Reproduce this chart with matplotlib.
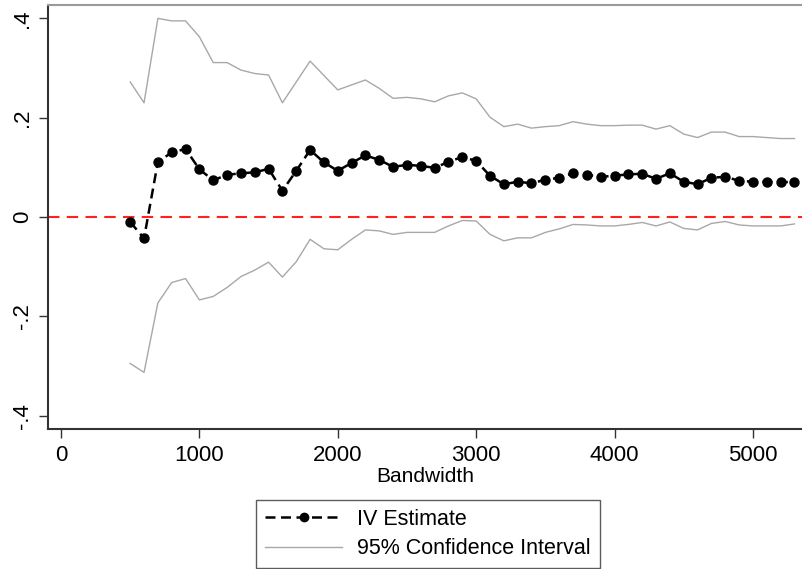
import numpy as np
import matplotlib
matplotlib.use('Agg')
import matplotlib.pyplot as plt

plt.rcParams['font.family'] = ['Liberation Sans', 'DejaVu Sans']

# bandwidths 500..5300 step 100
bandwidth = list(range(500, 5301, 100))

iv_estimate = [-0.010, -0.043, 0.111, 0.130, 0.137, 0.096, 0.074, 0.085, 0.088, 0.090,
               0.097, 0.053, 0.093, 0.135, 0.110, 0.093, 0.109, 0.124, 0.115, 0.101,
               0.105, 0.103, 0.099, 0.111, 0.121, 0.113, 0.083, 0.066, 0.071, 0.068,
               0.075, 0.079, 0.088, 0.085, 0.081, 0.083, 0.086, 0.087, 0.077, 0.088,
               0.071, 0.066, 0.079, 0.081, 0.073, 0.071, 0.071, 0.070, 0.071]

ci_upper = [0.272, 0.230, 0.400, 0.395, 0.395, 0.363, 0.311, 0.311, 0.296, 0.289,
            0.286, 0.230, 0.272, 0.314, 0.285, 0.256, 0.266, 0.276, 0.259, 0.239,
            0.241, 0.238, 0.232, 0.244, 0.250, 0.238, 0.201, 0.182, 0.187, 0.179,
            0.182, 0.184, 0.192, 0.187, 0.184, 0.184, 0.185, 0.185, 0.177, 0.184,
            0.167, 0.160, 0.171, 0.171, 0.162, 0.162, 0.160, 0.158, 0.158]

ci_lower = [-0.295, -0.313, -0.173, -0.132, -0.124, -0.167, -0.160, -0.142, -0.120, -0.107,
            -0.091, -0.121, -0.090, -0.045, -0.064, -0.066, -0.045, -0.026, -0.028, -0.035,
            -0.031, -0.031, -0.031, -0.018, -0.007, -0.008, -0.035, -0.048, -0.042, -0.042,
            -0.031, -0.024, -0.015, -0.016, -0.018, -0.018, -0.015, -0.011, -0.018, -0.010,
            -0.023, -0.026, -0.013, -0.009, -0.016, -0.018, -0.018, -0.018, -0.014]

yticks = [-0.4, -0.2, 0, 0.2, 0.4]
ytick_labels = ['-.4', '-.2', '0', '.2', '.4']
xticks = [0, 1000, 2000, 3000, 4000, 5000]

fig = plt.figure(figsize=(8.03, 5.69), dpi=100)
ax = fig.add_axes([48 / 803, 140 / 569, 1 - 48 / 803, 424 / 569])

ax.axhline(0, color='#ff2020', lw=1.5, dashes=(5.5, 3.5), zorder=1)
ci_line, = ax.plot(bandwidth, ci_upper, color='#a8a8a8', lw=1.0, zorder=2)
ax.plot(bandwidth, ci_lower, color='#a8a8a8', lw=1.0, zorder=2)
iv_line, = ax.plot(bandwidth, iv_estimate, color='black', lw=1.8, dashes=(4, 2.2),
                   marker='o', markersize=6.5, zorder=3)

ax.set_xlim(-94, 5362)
ax.set_ylim(-0.427, 0.427)
ax.set_xticks(xticks)
ax.set_yticks(yticks)
ax.set_yticklabels(ytick_labels, rotation=90, va='center')
ax.tick_params(axis='both', labelsize=16, length=6.5, width=1, color='#333333', direction='out')
ax.tick_params(axis='y', pad=4)
ax.tick_params(axis='x', pad=5)
ax.set_xlabel('Bandwidth', fontsize=15, labelpad=1)

for s in ['left', 'bottom']:
    ax.spines[s].set_color('#333333')
    ax.spines[s].set_linewidth(1.5)
ax.spines['top'].set_color('#9a9a9a')
ax.spines['top'].set_linewidth(1.5)
ax.spines['right'].set_visible(False)

leg = fig.legend([iv_line, ci_line], ['IV Estimate', '95% Confidence Interval'],
                 loc='lower center', bbox_to_anchor=(428 / 803, 1 / 569), fontsize=15.5,
                 frameon=True, fancybox=False, numpoints=1, handlelength=3.6,
                 handletextpad=0.7, labelspacing=0.4, borderpad=0.4, borderaxespad=0)
leg.get_frame().set_edgecolor('#333333')
leg.get_frame().set_linewidth(1.0)
for h in leg.legend_handles:
    if h.get_marker() == 'o':
        h.set_markersize(6)

fig.savefig('out.png', dpi=100)
